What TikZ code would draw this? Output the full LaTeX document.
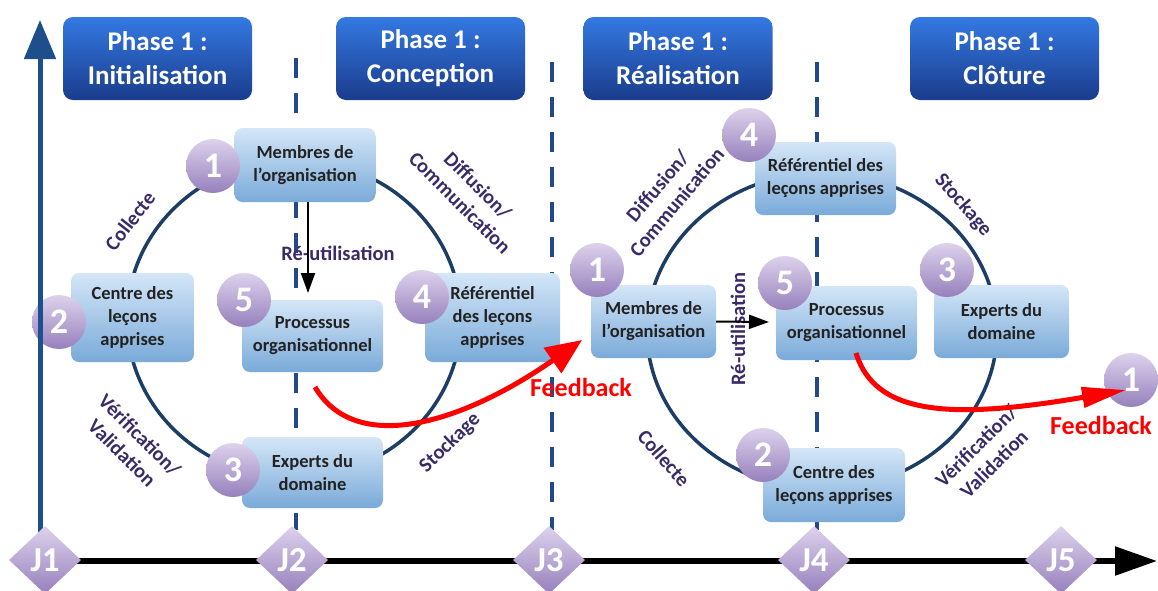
\documentclass[tikz,border=0pt]{standalone}
\usepackage{fontspec}
\setmainfont{Carlito}
\usetikzlibrary{shapes.geometric,arrows.meta}
\definecolor{phtop}{HTML}{3479E2}
\definecolor{phbot}{HTML}{1A3C8C}
\definecolor{bxtop}{HTML}{D4E6F7}
\definecolor{bxbot}{HTML}{7AAAD9}
\definecolor{nmtop}{HTML}{DDD2EC}
\definecolor{nmbot}{HTML}{9680BC}
\definecolor{axblue}{HTML}{1F4E8C}
\definecolor{ringc}{HTML}{1B3D66}
\definecolor{lblc}{HTML}{3A2B68}
\definecolor{dashc}{HTML}{24498A}
\definecolor{txtc}{HTML}{222222}
\begin{document}
\begin{tikzpicture}[x=1pt,y=-1pt,
  phase/.style={rounded corners=10pt, top color=phtop, bottom color=phbot, text=white,
    font=\fontsize{27pt}{34pt}\selectfont\bfseries, align=center,
    minimum width=189pt, minimum height=83pt, inner sep=0pt},
  lbox/.style={rounded corners=8pt, top color=bxtop, bottom color=bxbot, text=txtc,
    font=\fontsize{18.5pt}{23pt}\selectfont\bfseries, align=center, inner sep=0pt},
  num/.style={circle, top color=nmtop, bottom color=nmbot, text=white,
    font=\fontsize{36pt}{36pt}\selectfont\bfseries, minimum size=54pt, inner sep=0pt},
  jd/.style={diamond, top color=nmtop, bottom color=nmbot, text=white,
    font=\fontsize{35pt}{35pt}\selectfont\bfseries, minimum width=72pt, minimum height=68pt, inner sep=0pt},
  lbl/.style={text=lblc, font=\fontsize{20.5pt}{25pt}\selectfont\bfseries, align=center, inner sep=0pt},
  fb/.style={text=red, font=\fontsize{26pt}{26pt}\selectfont\bfseries, inner sep=0pt},
  dashln/.style={dashc, line width=4pt, dash pattern=on 20pt off 15pt},
  ring/.style={ringc, line width=3.5pt},
  redarrow/.style={red, line width=5pt},
  blkarrow/.style={black, line width=2pt, -{Triangle[length=20pt,width=14pt]}}
]
\useasboundingbox (0,0) rectangle (1158,590);

% dashed separators
\coordinate (d1t) at (296,58);  \coordinate (d1b) at (296,530);
\coordinate (d2t) at (552,62);  \coordinate (d2b) at (552,530);
\coordinate (d3t) at (817,62);  \coordinate (d3b) at (817,530);
\draw[dashln] (d1t) -- (d1b);
\draw[dashln] (d2t) -- (d2b);
\draw[dashln] (d3t) -- (d3b);

% rings
\draw[ring] (294,319) ellipse [x radius=167pt, y radius=159pt];
\draw[ring] (822,331) ellipse [x radius=175pt, y radius=158pt];

% phase headers
\node[phase] (ph1) at (157.5,58.5) {Phase 1 :\\Initialisation};
\node[phase] (ph2) at (430.5,58.5) {Phase 1 :\\Conception};
\node[phase] (ph3) at (678,58.5) {Phase 1 :\\Réalisation};
\node[phase] (ph4) at (1004.5,58.5) {Phase 1 :\\Clôture};

% left cycle boxes
\node[lbox, minimum width=141pt, minimum height=74pt] (mem1) at (305,165) {Membres de\\l’organisation};
\node[lbox, minimum width=123pt, minimum height=89pt] (cen1) at (132.5,317.5) {Centre des\\leçons\\apprises};
\node[lbox, minimum width=141pt, minimum height=72pt] (pro1) at (312.5,336) {Processus\\organisationnel};
\node[lbox, minimum width=135pt, minimum height=89pt] (ref1) at (492.5,317.5) {Référentiel\\des leçons\\apprises};
\node[lbox, minimum width=141pt, minimum height=71pt] (exp1) at (312.5,472.5) {Experts du\\domaine};

% right cycle boxes
\node[lbox, minimum width=141pt, minimum height=73pt] (ref2) at (825.5,178.5) {Référentiel des\\leçons apprises};
\node[lbox, minimum width=125pt, minimum height=73pt] (mem2) at (653.5,321.5) {Membres de\\l’organisation};
\node[lbox, minimum width=141pt, minimum height=74pt] (pro2) at (846.5,323) {Processus\\organisationnel};
\node[lbox, minimum width=135pt, minimum height=73pt] (exp2) at (1001.5,321.5) {Experts du\\domaine};
\node[lbox, minimum width=142pt, minimum height=74pt] (cen2) at (834,485) {Centre des\\leçons apprises};

% number badges
\node[num] (n1a) at (213,166) {1};
\node[num] (n2a) at (59,322) {2};
\node[num] (n5a) at (244,300) {5};
\node[num] (n4a) at (422,297) {4};
\node[num] (n3a) at (233,470) {3};
\node[num] (n4b) at (749,135) {4};
\node[num] (n1b) at (597,270) {1};
\node[num] (n5b) at (785,283) {5};
\node[num] (n3b) at (947,270) {3};
\node[num] (n2b) at (763,455) {2};
\node[num] (n1c) at (1131,380) {1};

% labels left
\node[lbl, rotate=52] (l1) at (130,221) {Collecte};
\node[lbl, rotate=-45] (l2) at (469,194) {Diffusion/\\Communication};
\node[lbl] (l3) at (338,253) {Ré-utilisation};
\node[lbl, rotate=-45] (l4) at (131,444) {Vérification/\\Validation};
\node[lbl, rotate=44] (l5) at (450,443) {Stockage};
% labels right
\node[lbl, rotate=50] (r1) at (667,194) {Diffusion/\\Communication};
\node[lbl, rotate=-49] (r2) at (963,205) {Stockage};
\node[lbl, rotate=90] (r3) at (738,329) {Ré-utilisation};
\node[lbl, rotate=-49] (r4) at (664,458) {Collecte};
\node[lbl, rotate=45] (r5) at (985,455) {Vérification/\\Validation};

% re-use arrows
\coordinate (ra1) at (308,293);
\draw[blkarrow] (ra1 |- mem1.south) -- (ra1);
\coordinate (ra2) at (769,322);
\draw[blkarrow] (mem2.east) -- (ra2);

% feedback arrows
\coordinate (fb1s) at (315,387);
\coordinate (fb1e) at (582,340);
\draw[redarrow, -{Triangle[length=36pt,width=30pt]}] (fb1s) .. controls (355,455) and (460,425) .. (fb1e);
\coordinate (fb2s) at (856,353);
\coordinate (fb2e) at (1126,390);
\draw[redarrow, -{Triangle[length=44pt,width=20pt]}] (fb2s) .. controls (875,415) and (950,420) .. (fb2e);
\node[fb] (fbt1) at (581,387) {Feedback};
\node[fb] (fbt2) at (1101,425) {Feedback};

% axes
\coordinate (vbase) at (40,545);
\coordinate (vtop) at (40,20);
\draw[axblue, line width=5pt, -{Triangle[length=39pt,width=31pt]}] (vbase) -- (vtop);
\coordinate (hstart) at (45,561);
\coordinate (htip) at (1157,561);
\draw[black, line width=5.5pt, -{Triangle[length=42pt,width=28pt]}] (hstart) -- (htip);

% milestones
\node[jd] (j1) at (45,560) {J1};
\node[jd] (j2) at (292,560) {J2};
\node[jd] (j3) at (549,560) {J3};
\node[jd] (j4) at (814,560) {J4};
\node[jd] (j5) at (1061,560) {J5};
\end{tikzpicture}
\end{document}
